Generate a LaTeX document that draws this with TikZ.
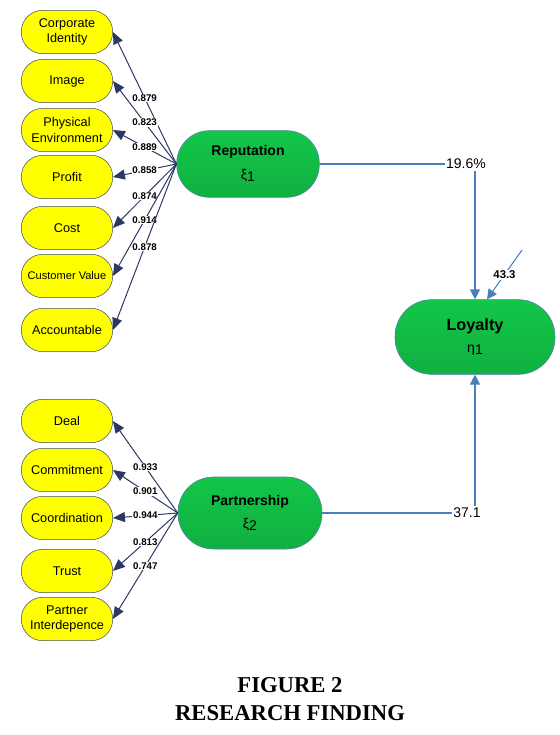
\documentclass[tikz,border=0pt]{standalone}
\usepackage{fontspec}
\setmainfont{Liberation Sans}
\newfontfamily\capfont{Liberation Serif}
\usetikzlibrary{arrows.meta}
\usepackage{color}
\definecolor{yy}{RGB}{255,255,0}
\definecolor{yb}{RGB}{70,80,98}
\definecolor{gt}{RGB}{18,198,72}
\definecolor{gb}{RGB}{16,176,64}
\definecolor{gl}{RGB}{84,124,178}
\definecolor{nv}{RGB}{44,56,100}
\definecolor{sb}{RGB}{74,126,187}
\def\sz#1{\fontsize{#1}{#1}\selectfont}

\tikzset{
  ind/.style={draw=yb, fill=yy, rectangle, rounded corners=16pt, minimum width=68.5pt,
    minimum height=32.5pt, inner sep=1pt, align=center, font=\fontsize{9.5}{11.3}\selectfont},
  lat/.style={draw=gl, top color=gt, bottom color=gb, rectangle, align=center, inner sep=1pt},
  load/.style={draw=nv, line width=0.75pt, -{Triangle[length=9pt,width=7.5pt]}},
  lw/.style={fill=white, inner sep=0.6pt, font=\bfseries\sz{7.3}},
  strc/.style={draw=sb, line width=1pt, -{Triangle[length=7.5pt,width=7.5pt]}},
  coef/.style={inner sep=1pt, font=\sz{10.5}}
}

\begin{document}
\begin{tikzpicture}[x=0.75pt, y=-0.75pt]
\useasboundingbox (0,0) rectangle (560,735);

% latent variables
\node[lat, minimum width=107pt, minimum height=50pt, rounded corners=24.5pt] (rep) at (248,164)
  {\textbf{\sz{10.5}Reputation}\\[6pt]{\sz{10.5}ξ\raisebox{-1.5pt}{1}}};
\node[lat, minimum width=108pt, minimum height=54pt, rounded corners=26.5pt] (part) at (250,513)
  {\textbf{\sz{10.5}Partnership}\\[5pt]{\sz{10.5}ξ\raisebox{-1.5pt}{2}}};
\node[lat, minimum width=120pt, minimum height=56pt, rounded corners=27.5pt] (loy) at (475,337)
  {\textbf{\sz{12.2}Loyalty}\\[5pt]{\sz{10.5}η\raisebox{-1.5pt}{1}}};

% indicators of Reputation
\node[ind] (ci) at (67,32) {Corporate\\Identity};
\node[ind] (im) at (67,81) {Image};
\node[ind] (pe) at (67,130) {Physical\\Environment};
\node[ind] (pr) at (67,177) {Profit};
\node[ind] (co) at (67,228) {Cost};
\node[ind, font=\sz{8.3}] (cv) at (67,276) {Customer Value};
\node[ind] (ac) at (67,330) {Accountable};

% indicators of Partnership
\node[ind] (de) at (67,421) {Deal};
\node[ind] (cm) at (67,470) {Commitment};
\node[ind] (cd) at (67,518) {Coordination};
\node[ind] (tr) at (67,571) {Trust};
\node[ind] (pi) at (67,619) {Partner\\Interdepence};

% loadings
\draw[load] (rep.west) -- node[lw] {0.879} (ci.east);
\draw[load] (rep.west) -- node[lw] {0.823} (im.east);
\draw[load] (rep.west) -- node[lw] {0.889} (pe.east);
\draw[load] (rep.west) -- node[lw] {0.858} (pr.east);
\draw[load] (rep.west) -- node[lw] {0.874} (co.east);
\draw[load] (rep.west) -- node[lw] {0.914} (cv.east);
\draw[load] (rep.west) -- node[lw] {0.878} (ac.east);

\draw[load] (part.west) -- node[lw] {0.933} (de.east);
\draw[load] (part.west) -- node[lw] {0.901} (cm.east);
\draw[load] (part.west) -- node[lw] {0.944} (cd.east);
\draw[load] (part.west) -- node[lw] {0.813} (tr.east);
\draw[load] (part.west) -- node[lw] {0.747} (pi.east);

% paths to Loyalty
\node[coef] (c19) at (466,164) {19.6\%};
\node[coef] (c37) at (467,513) {37.1};
\draw[sb, line width=1pt] (rep.east) -- (c19.west);
\draw[strc] (c19.south -| loy.north) -- (loy.north);
\draw[sb, line width=1pt] (part.east) -- (c37.west);
\draw[strc] (c37.north -| loy.south) -- (loy.south);

\coordinate (err) at (522,250);
\draw[strc, line width=0.8pt] (err) -- node[lw, font=\bfseries\sz{8.5}] {43.3} ([xshift=9pt]loy.north);

% caption
\node[font=\capfont\bfseries\sz{17}] (fig) at (290,685) {FIGURE 2};
\node[font=\capfont\bfseries\sz{17}] (rf) at (290,713) {RESEARCH FINDING};
\end{tikzpicture}
\end{document}
